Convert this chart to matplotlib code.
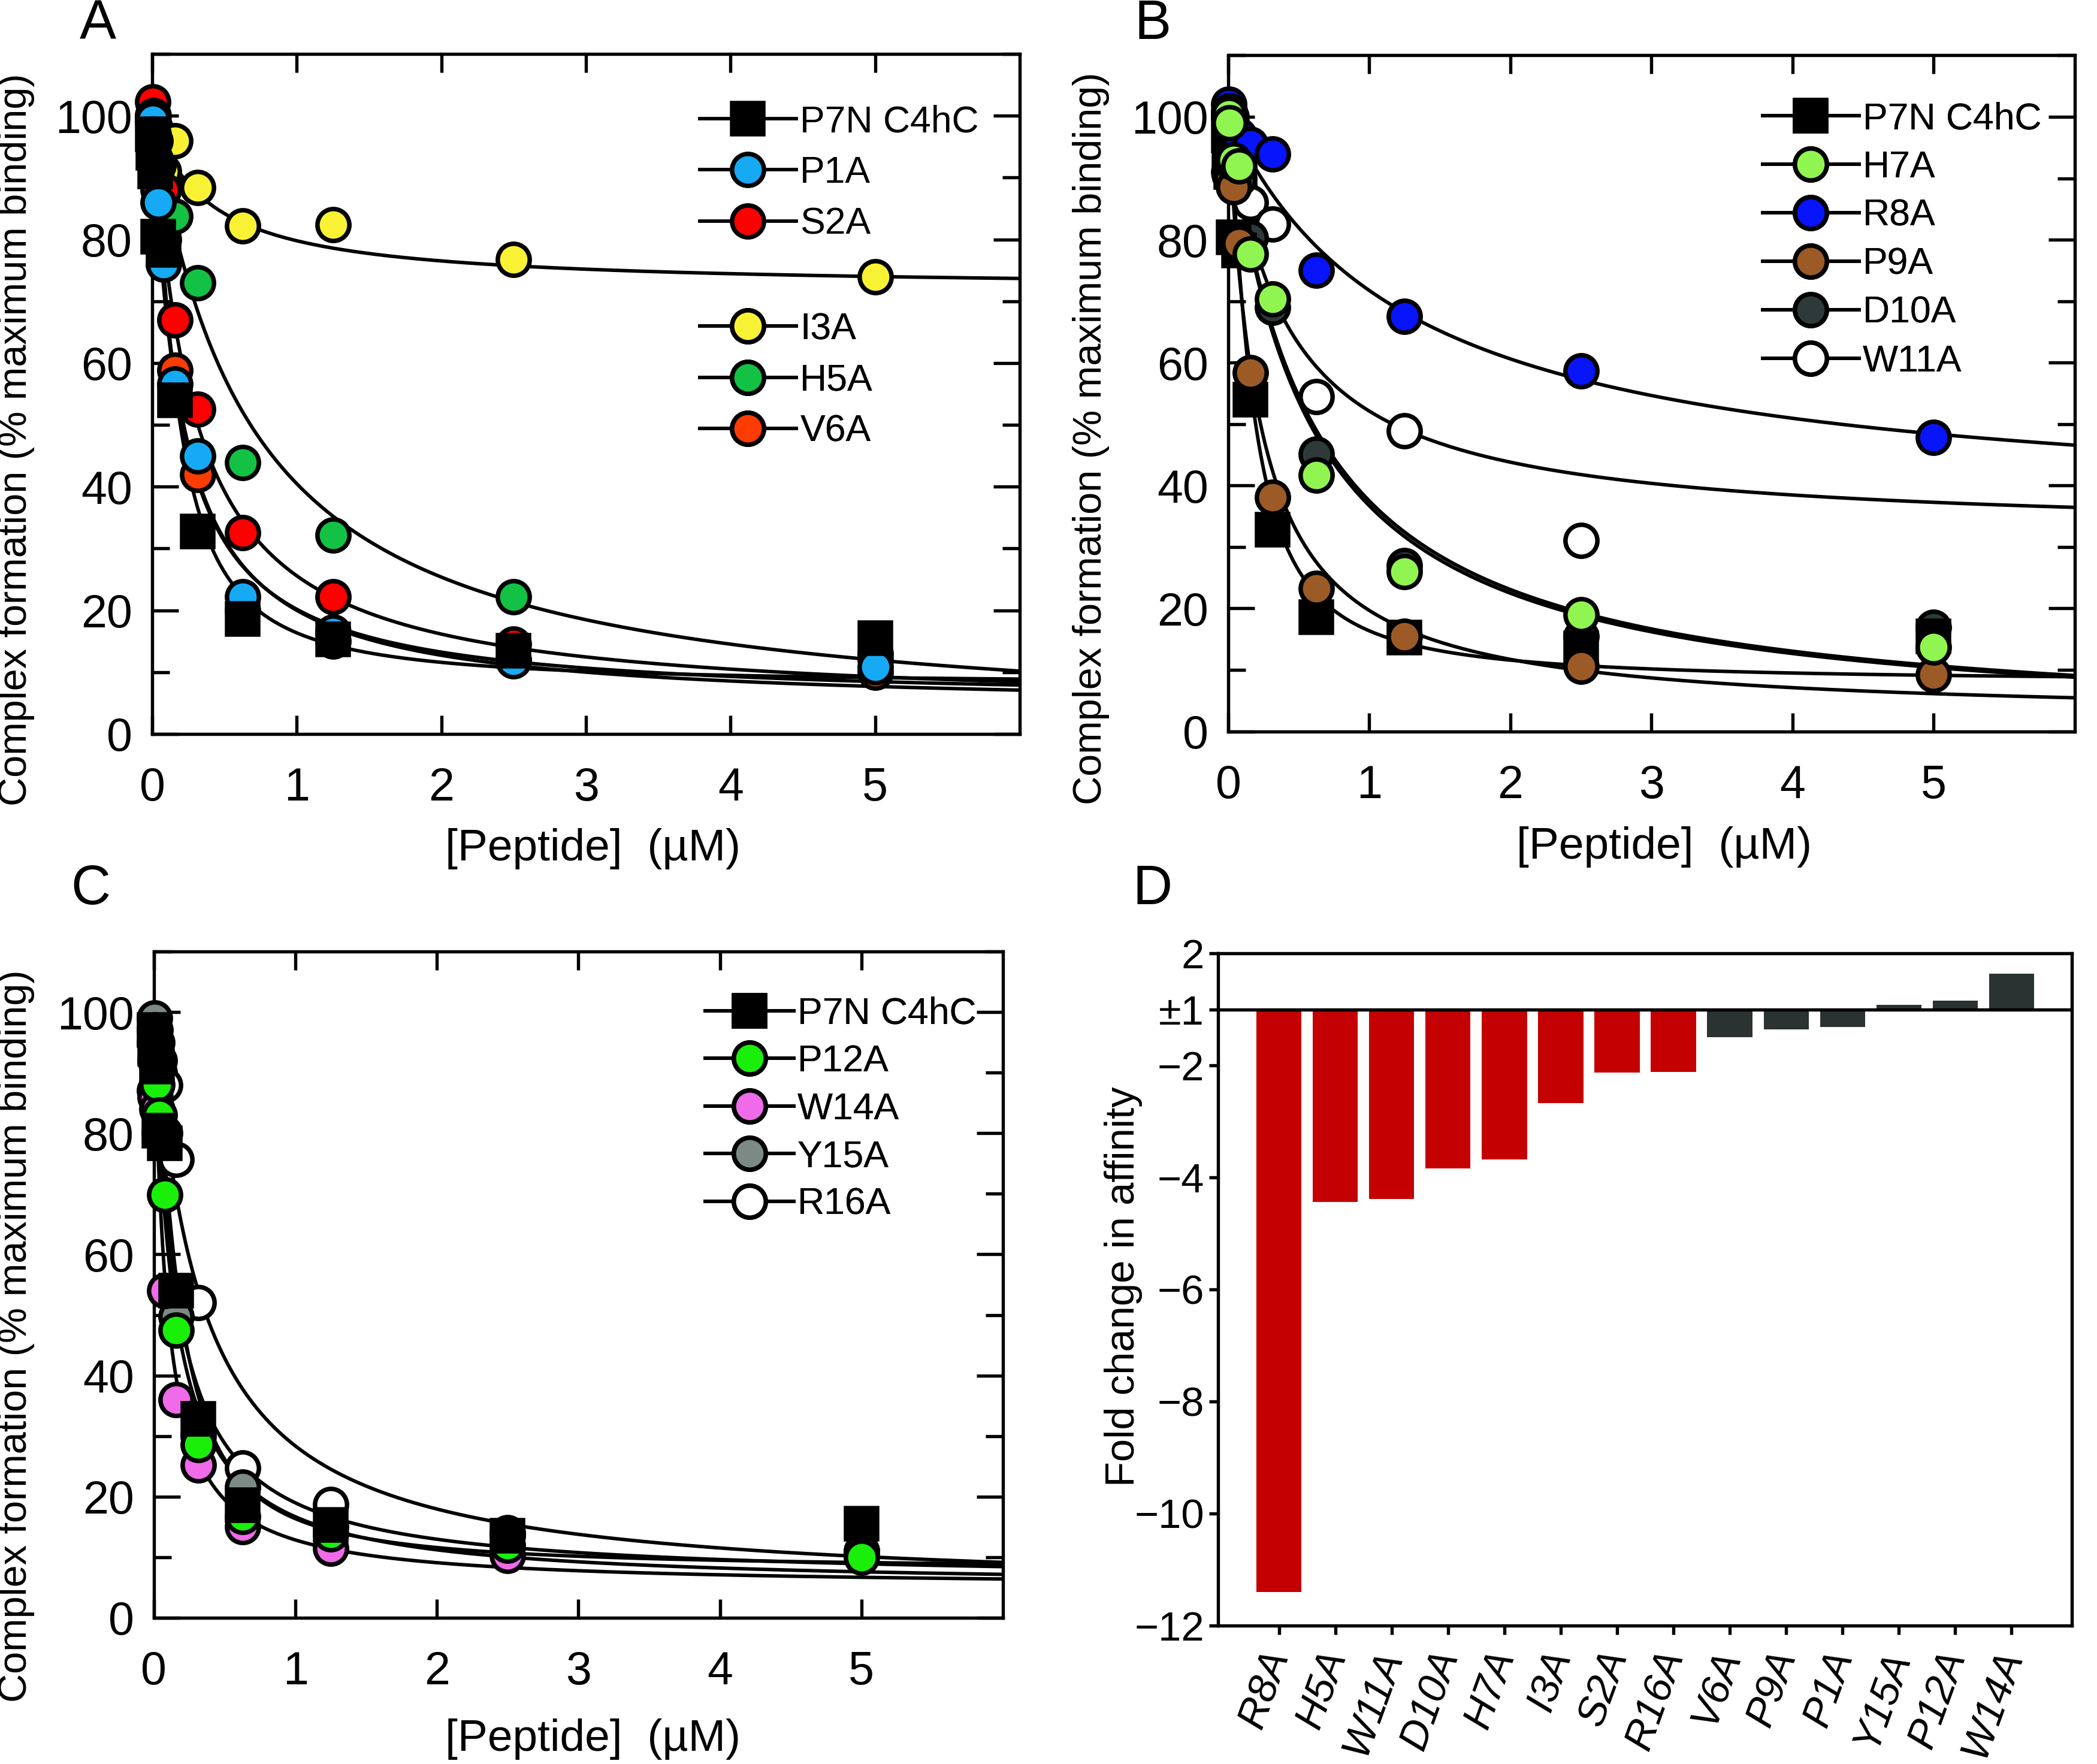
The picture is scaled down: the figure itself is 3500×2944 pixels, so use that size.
import numpy as np
import matplotlib.pyplot as plt
from matplotlib.lines import Line2D
from matplotlib.ticker import MultipleLocator

plt.rcParams['font.family'] = ['Liberation Sans', 'DejaVu Sans']
plt.rcParams['axes.linewidth'] = 1.3

# peptide concentrations (uM), two-fold dilution series
conc = [0.0049, 0.0098, 0.0195, 0.039, 0.078, 0.156, 0.3125, 0.625, 1.25, 2.5, 5.0]

# complex formation (% maximum binding)
p7n_c4hc = [97, 94, 91, 80.4, 78.3, 54, 32.8, 18.6, 15.3, 13.5, 15.5]
p1a = [99.3, 97, 93, 86, 76, 56.6, 45, 22.2, 16.5, 11.8, 10.9]
s2a = [102.3, 100, 96, 92, 88, 67, 52.5, 32.6, 22.2, 14.5, 12]
i3a = [100, 99, 98, 97, 91, 96, 88.4, 82.2, 82.4, 76.8, 74]
h5a = [100, 98, 96, 92, 90, 83.7, 73, 43.9, 32.2, 22.2, 13]
v6a = [99, 96, 93, 88, 80, 58.8, 42, 20, 15, 12, 10]
h7a = [100.4, 99, 92.7, 93, 92, 77.7, 70.4, 41.7, 26, 19, 13.7]
r8a = [102, 101, 100, 98, 97, 95.5, 94, 75, 67.5, 58.7, 47.8]
p9a = [91, 90.5, 89.9, 88.6, 79.4, 58.4, 38.1, 23.3, 15.5, 10.6, 9.2]
d10a = [101, 99, 97, 94, 90, 80.3, 69, 45.1, 27, 15.5, 16.9]
w11a = [100, 98, 95, 92, 89, 86.1, 82.5, 54.5, 48.9, 31.1]
p12a = [95, 92, 88, 83, 69.8, 47.5, 28.6, 16.7, 13.8, 12, 10]
w14a = [87, 86, 84, 80, 54, 36, 25.2, 15, 11.5, 10.3, 11]
y15a = [99, 97, 95, 92, 80, 49.8, 30, 21.6, 15, 13.5, 11]
r16a = [97, 95, 92, 90, 87.9, 75.7, 52, 24.7, 18.7, 14, 11]

# fitted curves: (top, bottom, IC50 in uM, hill slope)
p7n_c4hc_fit = (100, 8, 0.17, 1.3)
p1a_fit = (100, 5, 0.19, 1.0)
s2a_fit = (100, 4, 0.29, 1.0)
i3a_fit = (100, 72, 0.385, 1.0)
h5a_fit = (100, 0, 0.68, 1.0)
v6a_fit = (100, 4, 0.20, 1.0)
h7a_fit = (100, 0, 0.58, 1.0)
r8a_fit = (100, 35, 1.3, 1.0)
p9a_fit = (100, 2, 0.22, 1.0)
d10a_fit = (100, 0, 0.60, 1.0)
w11a_fit = (100, 32, 0.42, 1.0)
p12a_fit = (100, 5, 0.14, 1.0)
w14a_fit = (100, 5, 0.09, 1.0)
y15a_fit = (100, 6, 0.16, 1.0)
r16a_fit = (100, 4, 0.34, 1.0)

# panel D: fold change in affinity
mutants = ['R8A', 'H5A', 'W11A', 'D10A', 'H7A', 'I3A', 'S2A', 'R16A',
           'V6A', 'P9A', 'P1A', 'Y15A', 'P12A', 'W14A']
fold_change = [-11.4, -4.44, -4.38, -3.84, -3.68, -2.67, -2.13, -2.12,
               -1.50, -1.36, -1.31, 1.08, 1.16, 1.64]

# series: label, data, fit, marker, face colour (legend order)
panel_a = [
    ('P7N C4hC', p7n_c4hc, p7n_c4hc_fit, 's', 'black'),
    ('P1A', p1a, p1a_fit, 'o', '#16a9f4'),
    ('S2A', s2a, s2a_fit, 'o', '#ff0000'),
    ('I3A', i3a, i3a_fit, 'o', '#f9f234'),
    ('H5A', h5a, h5a_fit, 'o', '#13c244'),
    ('V6A', v6a, v6a_fit, 'o', '#ff3c00'),
]
panel_b = [
    ('P7N C4hC', p7n_c4hc, p7n_c4hc_fit, 's', 'black'),
    ('H7A', h7a, h7a_fit, 'o', '#90f550'),
    ('R8A', r8a, r8a_fit, 'o', '#0814fa'),
    ('P9A', p9a, p9a_fit, 'o', '#9c5b26'),
    ('D10A', d10a, d10a_fit, 'o', '#2e3a3a'),
    ('W11A', w11a, w11a_fit, 'o', 'white'),
]
panel_c = [
    ('P7N C4hC', p7n_c4hc, p7n_c4hc_fit, 's', 'black'),
    ('P12A', p12a, p12a_fit, 'o', '#1aef0a'),
    ('W14A', w14a, w14a_fit, 'o', '#ef6be9'),
    ('Y15A', y15a, y15a_fit, 'o', '#7b8a85'),
    ('R16A', r16a, r16a_fit, 'o', 'white'),
]

MS_CIRCLE = 12.8
MS_SQUARE = 12.5
MEW = 1.8
LW = 1.4


def hill(x, fit):
    top, bottom, ic50, h = fit
    return bottom + (top - bottom) / (1 + (x / ic50) ** h)


def handle(marker, color):
    return Line2D([], [], color='black', lw=LW, marker=marker,
                  markersize=MS_CIRCLE if marker == 'o' else MS_SQUARE,
                  markerfacecolor=color, markeredgecolor='black',
                  markeredgewidth=MEW)


def binding_panel(ax, series, draw_order, legend_groups, legend_x,
                  legend_tops, hlen, spacing):
    xs = np.linspace(0.0005, 6, 600)
    for name, y, fit, marker, color in series:
        ax.plot(xs, hill(xs, fit), color='black', lw=LW, zorder=2)
    for z, i in enumerate(draw_order):
        name, y, fit, marker, color = series[i]
        ax.plot(conc[:len(y)], y, linestyle='none', marker=marker,
                markersize=MS_CIRCLE if marker == 'o' else MS_SQUARE,
                markerfacecolor=color, markeredgecolor='black',
                markeredgewidth=MEW, zorder=3 + z, clip_on=False)
    ax.set_xlim(0, 6)
    ax.set_ylim(0, 110)
    ax.yaxis.set_major_locator(MultipleLocator(20))
    ax.yaxis.set_minor_locator(MultipleLocator(10))
    ax.set_xticks([0, 1, 2, 3, 4, 5])
    ax.tick_params(axis='both', direction='in', top=True, right=True,
                   labelsize=18.5, width=1.3)
    ax.tick_params(axis='y', which='major', length=10.5, pad=8)
    ax.tick_params(axis='y', which='minor', length=7, width=1.3,
                   direction='in', right=True)
    ax.tick_params(axis='x', which='major', length=7.5, pad=13)
    ax.set_xlabel('[Peptide]  (\u00b5M)', fontsize=18, va='center')
    ax.set_ylabel('Complex formation (% maximum binding)', fontsize=16,
                  va='center')
    for group, top in zip(legend_groups, legend_tops):
        handles = [handle(series[i][3], series[i][4]) for i in group]
        labels = [series[i][0] for i in group]
        leg = ax.legend(handles, labels, loc='upper left',
                        bbox_to_anchor=(legend_x, top), frameon=False,
                        fontsize=15, handlelength=hlen, handletextpad=0.1,
                        labelspacing=spacing, borderpad=0, borderaxespad=0,
                        numpoints=1)
        leg.set_zorder(20)
        ax.add_artist(leg)


fig = plt.figure(figsize=(3500 / 300, 2944 / 300), dpi=300)

ax_a = fig.add_axes([0.0726, 0.5839, 0.4137, 0.3855])
binding_panel(ax_a, panel_a, [5, 4, 3, 2, 1, 0], [[0, 1, 2], [3, 4, 5]],
              0.631, [0.926, 0.621], 2.58, 0.42)
ax_a.xaxis.set_label_coords(0.508, -0.169)
ax_a.yaxis.set_label_coords(-0.157, 0.433)

ax_b = fig.add_axes([0.5857, 0.5854, 0.4037, 0.3832])
binding_panel(ax_b, panel_b, [5, 4, 0, 3, 2, 1], [[0, 1, 2, 3, 4, 5]],
              0.631, [0.932], 2.58, 0.35)
ax_b.xaxis.set_label_coords(0.515, -0.171)
ax_b.yaxis.set_label_coords(-0.162, 0.433)

ax_c = fig.add_axes([0.0734, 0.0829, 0.4049, 0.3777])
binding_panel(ax_c, panel_c, [4, 3, 2, 1, 0], [[0, 1, 2, 3, 4]],
              0.649, [0.933], 2.37, 0.33)
ax_c.xaxis.set_label_coords(0.517, -0.182)
ax_c.yaxis.set_label_coords(-0.162, 0.423)

# panel D: fold changes on a scale where +/-1 sits at zero
ax_d = fig.add_axes([0.5809, 0.0786, 0.4071, 0.3809])
fc = np.array(fold_change)
shifted = np.where(fc < 0, fc + 1, fc - 1)
colors = ['#c40000' if f <= -2 else '#2a3332' for f in fc]
ax_d.bar(np.arange(len(mutants)), shifted, width=0.8, color=colors, zorder=2)
ax_d.axhline(0, color='black', lw=1.3, zorder=3)
ax_d.set_xlim(-1.08, len(mutants) - 1 + 1.07)
ax_d.set_ylim(-11, 1)
ax_d.set_yticks([1, 0, -1, -3, -5, -7, -9, -11])
ax_d.set_yticklabels(['2', '\u00b11', '\u22122', '\u22124', '\u22126',
                      '\u22128', '\u221210', '\u221212'])
ax_d.set_xticks(np.arange(len(mutants)))
ax_d.set_xticklabels(mutants, rotation=70, ha='right', va='center',
                     rotation_mode='anchor', style='italic', fontsize=16.5)
ax_d.tick_params(axis='both', direction='out', length=3.5, width=1.3)
ax_d.tick_params(axis='y', labelsize=16.5, pad=2)
ax_d.tick_params(axis='x', pad=7)
ax_d.set_ylabel('Fold change in affinity', fontsize=16.5, va='center')
ax_d.yaxis.set_label_coords(-0.111, 0.504)

for letter, x, y in [('A', 0.0466, 0.986), ('B', 0.5497, 0.986),
                     ('C', 0.0434, 0.4956), ('D', 0.5497, 0.4956)]:
    fig.text(x, y, letter, fontsize=22, ha='center', va='center')

fig.savefig('out.png', dpi=300)
